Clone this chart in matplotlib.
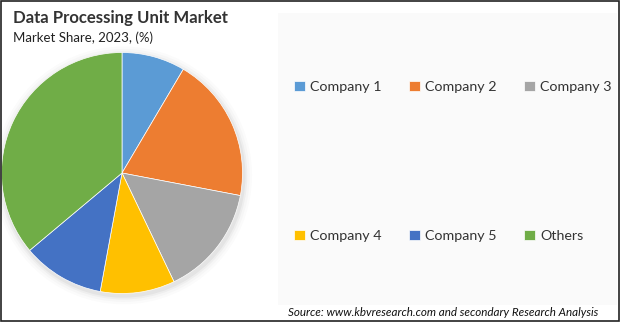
import matplotlib
matplotlib.use("Agg")
import matplotlib.pyplot as plt
from matplotlib.patches import Rectangle, Circle

companies = ["Company 1", "Company 2", "Company 3", "Company 4", "Company 5", "Others"]
shares = [8.5, 19.5, 14.9, 10.0, 11.0, 36.1]
colors = ["#5B9BD5", "#ED7D31", "#A5A5A5", "#FFC000", "#4472C4", "#70AD47"]

plt.rcParams["font.family"] = ["Lato", "DejaVu Sans"]

fig = plt.figure(figsize=(6.2, 3.22), dpi=100)
fig.patch.set_facecolor("white")

# outer frame and light legend panel
fig.patches.append(Rectangle((0.001, 0.002), 0.997, 0.995, transform=fig.transFigure,
                             fill=False, edgecolor="#222222", linewidth=1.2))
fig.patches.append(Rectangle((278 / 620, 17 / 322), 339 / 620, 292 / 322, transform=fig.transFigure,
                             facecolor="#FAFAFA", edgecolor="none", zorder=0))

ax = fig.add_axes([1.5 / 620, 28.5 / 322, 241 / 620, 241 / 322])
ax.set_aspect("equal")
ax.axis("off")

# soft shadow behind the pie
for r, a in [(1.07, 0.015), (1.05, 0.02), (1.03, 0.03), (1.015, 0.04)]:
    ax.add_patch(Circle((0.01, -0.02), r, facecolor="black", alpha=a, edgecolor="none",
                        clip_on=False, zorder=0))

wedges, _ = ax.pie(shares, colors=colors, startangle=90, counterclock=False,
                   wedgeprops=dict(edgecolor="white", linewidth=0.5))
for w in wedges:
    w.set_zorder(2)
ax.set_xlim(-1, 1)
ax.set_ylim(-1, 1)

fig.text(13 / 620, 1 - 18 / 322, "Data Processing Unit Market", fontsize=12.1, fontweight="bold",
         color="#333333", va="center", ha="left")
fig.text(13 / 620, 1 - 38 / 322, "Market Share, 2023, (%)", fontsize=9.5, color="#222222",
         va="center", ha="left")

leg_kw = dict(ncol=3, frameon=False, fontsize=10.3, handlelength=0.75, handleheight=0.75,
              handletextpad=0.35, columnspacing=1.95, borderaxespad=0, borderpad=0,
              labelcolor="#333333")
leg1 = fig.legend(wedges[:3], companies[:3], loc="center left",
                  bbox_to_anchor=(294 / 620, 1 - 87 / 322), **leg_kw)
leg2 = fig.legend(wedges[3:], companies[3:], loc="center left",
                  bbox_to_anchor=(294 / 620, 1 - 236 / 322), **leg_kw)

fig.text(598 / 620, 1 - 312 / 322, "Source: www.kbvresearch.com and secondary Research Analysis",
         fontsize=8.4, style="italic", color="#111111", ha="right", va="center")

fig.savefig("out.png", dpi=100)
